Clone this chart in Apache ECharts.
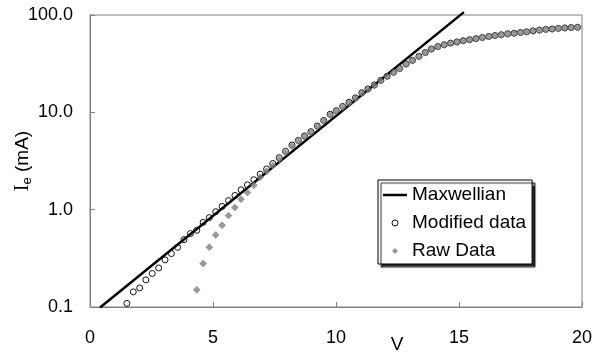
<!DOCTYPE html>
<html>
<head>
<meta charset="utf-8">
<script src="https://cdn.jsdelivr.net/npm/echarts@6/dist/echarts.min.js"></script>
<style>html,body{margin:0;padding:0;background:#fff}#c{width:600px;height:356px}</style>
</head>
<body>
<div id="c"></div>
<script>
// Probe voltage (V) for each measured point
const voltage = [1.50,1.76,2.02,2.27,2.53,2.79,3.05,3.31,3.56,3.82,
  4.08,4.34,4.60,4.85,5.11,5.37,5.63,5.89,6.14,6.40,
  6.66,6.92,7.18,7.43,7.69,7.95,8.21,8.47,8.72,8.98,
  9.24,9.50,9.76,10.01,10.27,10.53,10.79,11.05,11.30,11.56,
  11.82,12.08,12.34,12.59,12.85,13.11,13.37,13.63,13.88,14.14,
  14.40,14.66,14.92,15.17,15.43,15.69,15.95,16.21,16.46,16.72,
  16.98,17.24,17.50,17.75,18.01,18.27,18.53,18.79,19.04,19.30,
  19.56,19.82];
// Modified data, electron current (mA)
const modifiedCurrent = [0.109,0.143,0.157,0.190,0.221,0.252,0.305,0.354,0.410,0.492,
  0.568,0.614,0.741,0.828,0.954,1.08,1.24,1.40,1.60,1.80,
  2.03,2.32,2.62,2.98,3.42,3.98,4.62,5.15,5.72,6.33,
  7.25,8.25,9.55,10.4,11.5,12.7,14.1,15.9,17.4,19.1,
  21.3,23.5,25.8,28.2,31.4,34.2,37.7,41.2,44.7,47.4,
  49.5,51.4,52.9,54.5,55.8,57.2,58.7,60.2,61.5,62.7,
  64.1,65.0,66.2,67.2,68.6,70.0,71.2,71.9,72.9,73.7,
  74.3,74.8];
// Raw data, electron current (mA); null = no point
const rawCurrent = [null,null,null,null,null,null,null,null,null,null,
  null,0.15,0.28,0.41,0.55,0.69,0.87,1.05,1.28,1.50,
  1.78,2.15,2.48,2.85,3.30,3.85,4.50,5.02,5.60,6.20,
  7.10,8.10,9.40,10.2,11.3,12.5,13.9,15.7,17.2,18.9,
  21.1,23.3,25.6,28.0,31.2,34.0,37.5,41.0,44.5,47.2,
  49.3,51.2,52.7,54.3,55.6,57.0,58.5,60.0,61.3,62.5,
  63.9,64.8,66.0,67.0,68.4,69.8,71.0,71.7,72.7,73.5,
  74.1,74.6];
// Maxwellian fit line end points
const maxwellVoltage = [0.41, 15.2];
const maxwellCurrent = [0.099, 107];

const xTicks = [0, 5, 10, 15, 20];
const yTickLabels = ['0.1', '1.0', '10.0', '100.0'];

const pair = (xs, ys) => xs.map((x, i) => [x, ys[i]]).filter(p => p[1] != null);

const chart = echarts.init(document.getElementById('c'), null, {renderer: 'canvas'});
const font = 'Liberation Sans';
chart.setOption({
  animation: false,
  backgroundColor: '#fff',
  grid: {left: 90, right: 18, top: 15, bottom: 49, show: true, borderColor: '#808080', borderWidth: 1, containLabel: false, outerBoundsMode: 'none'},
  xAxis: {
    type: 'value', min: xTicks[0], max: xTicks[xTicks.length - 1], interval: 5,
    axisLine: {lineStyle: {color: '#808080', width: 1}},
    axisTick: {inside: true, length: 5, lineStyle: {color: '#808080'}},
    splitLine: {show: false},
    axisLabel: {margin: 22, fontFamily: font, fontSize: 18, color: '#000'}
  },
  yAxis: {
    type: 'log', logBase: 10, min: 0.1, max: 100,
    axisLine: {show: true, lineStyle: {color: '#808080', width: 1}},
    axisTick: {show: true, inside: true, length: 5, lineStyle: {color: '#808080'}},
    splitLine: {show: false},
    axisLabel: {margin: 17, fontFamily: font, fontSize: 18, color: '#000',
      formatter: v => { const i = Math.round(Math.log10(v)) + 1; return yTickLabels[i] || ''; }},
    name: '{i|I}{e|e}{t| (mA)}', nameLocation: 'middle', nameRotate: 90, nameGap: 56,
    nameMoveOverlap: false,
    nameTextStyle: {
      rich: {
        i: {fontFamily: 'Liberation Serif', fontSize: 20, color: '#000'},
        e: {fontFamily: font, fontSize: 13, color: '#000', padding: [9, 0, 0, 0]},
        t: {fontFamily: font, fontSize: 19, color: '#000'}
      }
    }
  },
  legend: {
    orient: 'vertical', left: 378, top: 180,
    padding: [4, 6, 2, 5], itemGap: 6, itemWidth: 24, itemHeight: 6,
    symbolKeepAspect: true,
    backgroundColor: '#fff', borderColor: '#000', borderWidth: 1,
    shadowColor: 'rgba(0,0,0,0.85)', shadowOffsetX: 3, shadowOffsetY: 3, shadowBlur: 1,
    textStyle: {fontFamily: font, fontSize: 19, color: '#000', lineHeight: 22},
    data: [
      {name: 'Maxwellian', icon: 'path://M0,0L24,0L24,2.5L0,2.5Z', itemStyle: {color: '#000', borderWidth: 0}},
      {name: 'Modified data', icon: 'circle', itemStyle: {color: 'rgba(0,0,0,0)', borderColor: '#111', borderWidth: 1}},
      {name: 'Raw Data', icon: 'path://M3,0L6,3L3,6L0,3Z', itemStyle: {color: '#808080', borderWidth: 0}}
    ]
  },
  graphic: [{
    type: 'text', x: 397, y: 345,
    style: {text: 'V', fontFamily: font, fontSize: 19, fill: '#000', textAlign: 'center', textVerticalAlign: 'middle'}
  }],
  series: [
    {
      name: 'Maxwellian', type: 'line', data: pair(maxwellVoltage, maxwellCurrent),
      symbol: 'none', clip: false, lineStyle: {color: '#000', width: 2.5}, itemStyle: {color: '#000'}, z: 2
    },
    {
      name: 'Modified data', type: 'scatter', data: pair(voltage, modifiedCurrent),
      symbol: 'circle', symbolSize: 6,
      itemStyle: {color: 'rgba(0,0,0,0)', borderColor: '#111', borderWidth: 1, opacity: 1}, z: 3
    },
    {
      name: 'Raw Data', type: 'scatter', data: pair(voltage, rawCurrent),
      symbol: 'diamond', symbolSize: 7,
      itemStyle: {color: '#808080', borderColor: '#707070', borderWidth: 0.5}, z: 4
    }
  ]
});
</script>
</body>
</html>
